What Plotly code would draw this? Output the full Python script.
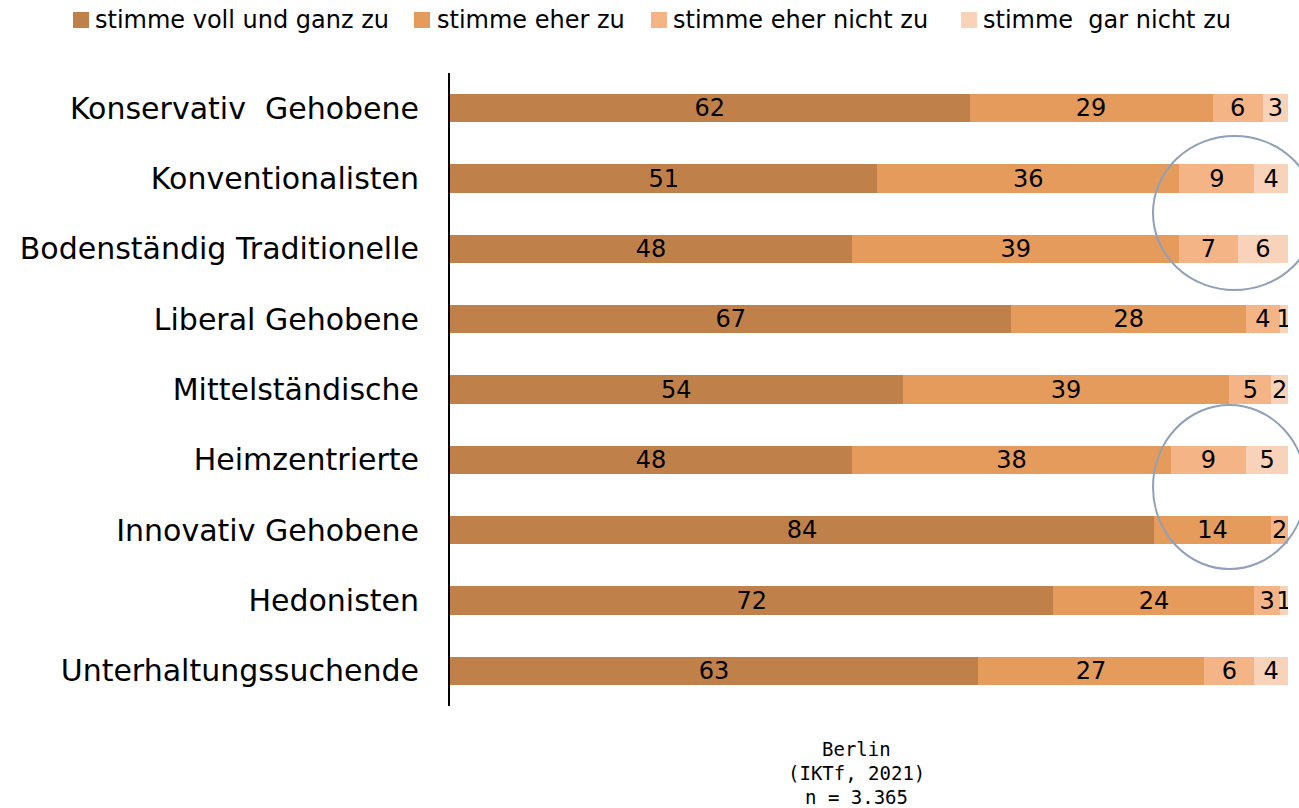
import plotly.graph_objects as go

categories = ["Konservativ\u00a0 Gehobene", "Konventionalisten", "Bodenständig Traditionelle",
              "Liberal Gehobene", "Mittelständische", "Heimzentrierte", "Innovativ Gehobene",
              "Hedonisten", "Unterhaltungssuchende"]
series_names = ["stimme voll und ganz zu", "stimme eher zu", "stimme eher nicht zu", "stimme\u00a0 gar nicht zu"]
voll = [62, 51, 48, 67, 54, 48, 84, 72, 63]
eher = [29, 36, 39, 28, 39, 38, 14, 24, 27]
eher_nicht = [6, 9, 7, 4, 5, 9, 2, 3, 6]
gar_nicht = [3, 4, 6, 1, 2, 5, 0.4, 1, 4]
colors = ["#C0804A", "#E49B5B", "#F5B486", "#F8D2B9"]
source_lines = ["Berlin", "(IKTf, 2021)", "n = 3.365"]

FONT = "DejaVu Sans"
W, H = 1299, 808
ML, MR, MT, MB = 450, 11, 73, 102
PW, PH = W - ML - MR, H - MT - MB


def px(x):
    return (x - ML) / PW


def py(y):
    return (H - MB - y) / PH


fig = go.Figure()
for name, vals, col in zip(series_names, [voll, eher, eher_nicht, gar_nicht], colors):
    fig.add_trace(go.Bar(
        y=categories, x=vals, name=name, orientation="h",
        marker=dict(color=col, line=dict(width=0)),
        text=[str(v) if v >= 1 else "" for v in vals],
        textposition="inside", insidetextanchor="middle", textangle=0,
        constraintext="none",
        textfont=dict(color="black", size=24, family=FONT),
        width=0.4, hoverinfo="skip", showlegend=False,
    ))

# manual legend
legend_sq_x = [73, 414, 651, 961]
legend_txt_x = [95, 437, 673, 983]
for name, col, sx, tx in zip(series_names, colors, legend_sq_x, legend_txt_x):
    fig.add_shape(type="rect", xref="paper", yref="paper", x0=px(sx), x1=px(sx + 16),
                  y0=py(28), y1=py(12), fillcolor=col, line=dict(width=0))
    fig.add_annotation(text=name, xref="paper", yref="paper", x=px(tx - 2), y=py(20),
                       showarrow=False, xanchor="left", yanchor="middle",
                       font=dict(family=FONT, size=24, color="black"))

# highlight circles (paper refs so they are not clipped at the plot edge)
for (x0, x1, y0, y1) in [(1153, 1316, 136, 290), (1153, 1306, 405, 569)]:
    fig.add_shape(type="circle", xref="paper", yref="paper", x0=px(x0), x1=px(x1),
                  y0=py(y1), y1=py(y0), line=dict(color="#8FA0BA", width=2))

for txt, yy in zip(source_lines, [749, 773, 797]):
    fig.add_annotation(text=txt, xref="paper", yref="paper", x=px(856), y=py(yy), showarrow=False,
                       xanchor="center", yanchor="middle",
                       font=dict(family="DejaVu Sans Mono", size=19, color="black"))

fig.update_layout(
    barmode="stack", width=W, height=H,
    margin=dict(l=ML, r=MR, t=MT, b=MB, autoexpand=False),
    plot_bgcolor="white", paper_bgcolor="white",
    font=dict(family=FONT, color="black"),
    showlegend=False,
    xaxis=dict(range=[0, 100], visible=False, fixedrange=True),
    yaxis=dict(categoryorder="array", categoryarray=categories, autorange="reversed",
               showline=True, linecolor="black", linewidth=2, ticks="",
               tickfont=dict(size=30, family=FONT), ticklabelstandoff=23,
               showgrid=False, fixedrange=True),
)
fig.write_html("out.html", config={"displayModeBar": False},
               post_script="document.body.style.margin='0';document.body.style.overflow='hidden';")
